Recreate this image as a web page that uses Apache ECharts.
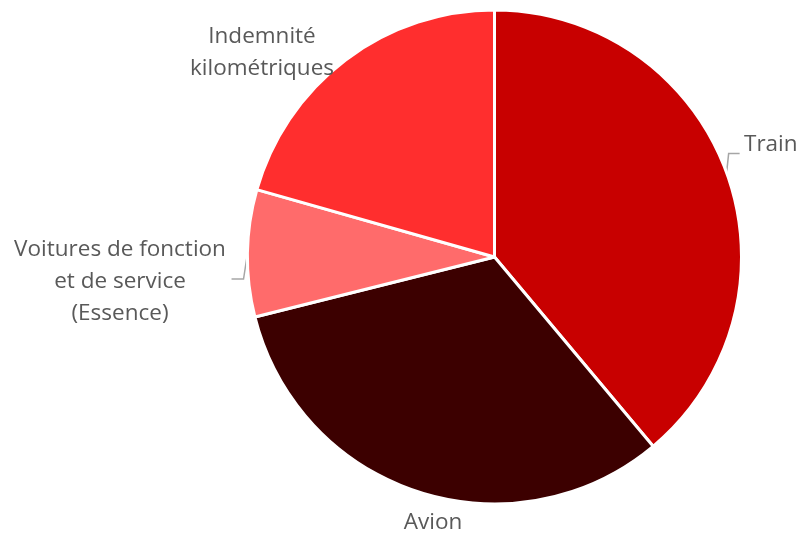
<!DOCTYPE html>
<html>
<head>
<meta charset="utf-8">
<script src="https://cdn.jsdelivr.net/npm/echarts@6/dist/echarts.min.js"></script>
<style>
  html, body { margin: 0; padding: 0; background: #fff; }
  #chart { width: 800px; height: 534px; }
</style>
</head>
<body>
<div id="chart"></div>
<script>
// Travel emissions split by transport mode (share, %)
const categories = ['Train', 'Avion', 'Voitures de fonction\net de service\n(Essence)', 'Indemnité\nkilométriques'];
const shares = [38.9, 32.2, 8.3, 20.6];
const sliceColors = ['#c80000', '#3c0000', '#ff6b6b', '#ff2e2e'];

// Label placement per slice: absolute anchor, alignment, leader-line bend offsets
const labelPlacement = [
  { x: 744, y: 145, align: 'left', bend: [2, -19], tail: 11 },
  { x: 433, y: 523, align: 'center', bend: null },
  { x: 120, y: 282, align: 'center', bend: [-4, 26], tail: -12 },
  { x: 262, y: 53, align: 'center', bend: null }
];

const chart = echarts.init(document.getElementById('chart'), null, { renderer: 'canvas' });

const data = categories.map((name, i) => ({
  name: name,
  value: shares[i],
  itemStyle: { color: sliceColors[i] },
  labelLine: { show: labelPlacement[i].bend !== null }
}));

chart.setOption({
  animation: false,
  series: [{
    type: 'pie',
    center: [494.5, 257],
    radius: 247,
    startAngle: 90,
    clockwise: true,
    avoidLabelOverlap: false,
    data: data,
    itemStyle: { borderColor: '#ffffff', borderWidth: 3 },
    label: {
      show: true,
      formatter: '{b}',
      color: '#595959',
      fontFamily: 'Open Sans',
      fontSize: 22.5,
      lineHeight: 32
    },
    labelLine: {
      show: true,
      length: 10,
      length2: 10,
      lineStyle: { color: '#a6a6a6', width: 1.5 }
    },
    emphasis: { disabled: true },
    labelLayout: function (params) {
      const p = labelPlacement[params.dataIndex];
      const out = { x: p.x, y: p.y, align: p.align, verticalAlign: 'middle' };
      if (p.bend && params.labelLinePoints) {
        const s = params.labelLinePoints[0];
        const b = [s[0] + p.bend[0], s[1] + p.bend[1]];
        out.labelLinePoints = [s, b, [b[0] + p.tail, b[1]]];
      }
      return out;
    }
  }]
});
</script>
</body>
</html>
